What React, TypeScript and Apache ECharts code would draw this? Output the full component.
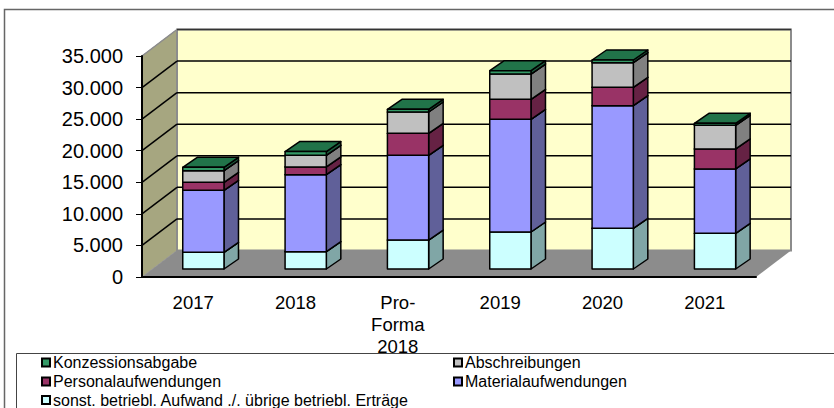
import React, { useEffect, useRef } from "react";
import * as echarts from "echarts";

const categories = ["2017", "2018", "Pro-\nForma\n2018", "2019", "2020", "2021"];
const sonstige = [2640, 2745, 4590, 5860, 6440, 5650];
const material = [9820, 12200, 13410, 17840, 19430, 10190];
const personal = [1267, 1215, 3485, 3170, 2900, 3170];
const abschreibungen = [1850, 1850, 3380, 4010, 3910, 3750];
const konzession = [530, 580, 420, 530, 420, 320];
const yTicks = [5000, 10000, 15000, 20000, 25000, 30000, 35000];

const NAMES = {
  k: "Konzessionsabgabe",
  a: "Abschreibungen",
  p: "Personalaufwendungen",
  m: "Materialaufwendungen",
  s: "sonst. betriebl. Aufwand ./. übrige betriebl. Erträge",
};

const FONT = "Liberation Sans, Arial, sans-serif";
const WALL_DX = 35;
const WALL_DY = -26.5;
const BAR_DX = 10.2;
const BAR_DY = -8;
const DEPTH_DX = 14.5;
const DEPTH_DY = -10;
const BAR_RATIO = 0.403;

const stacks = [
  { name: NAMES.s, values: sonstige, front: "#CCFFFF", side: "#80A6A6", top: "#80A6A6" },
  { name: NAMES.m, values: material, front: "#9999FF", side: "#606099", top: "#606099" },
  { name: NAMES.p, values: personal, front: "#993366", side: "#662244", top: "#662244" },
  { name: NAMES.a, values: abschreibungen, front: "#C0C0C0", side: "#808080", top: "#808080" },
  { name: NAMES.k, values: konzession, front: "#339966", side: "#1C5C3C", top: "#217349" },
];

function barSeries() {
  const running = categories.map(() => 0);
  return stacks.map((s) => {
    const data = s.values.map((v, i) => {
      const item = [i, running[i], running[i] + v];
      running[i] += v;
      return item;
    });
    return {
      type: "custom",
      name: s.name,
      z: 5,
      itemStyle: { color: s.front },
      encode: { x: 0, y: [1, 2] },
      data,
      renderItem: (_p: any, api: any) => {
        const c = api.value(0);
        const lo = api.coord([c, api.value(1)]);
        const hi = api.coord([c, api.value(2)]);
        const w = api.size([1, 0])[0] * BAR_RATIO;
        const x0 = lo[0] - w / 2 + BAR_DX;
        const x1 = x0 + w;
        const yb = lo[1] + BAR_DY;
        const yt = hi[1] + BAR_DY;
        const line = { stroke: "#000", lineWidth: 1.5, lineJoin: "round" };
        return {
          type: "group",
          children: [
            {
              type: "polygon",
              shape: { points: [[x1, yb], [x1 + DEPTH_DX, yb + DEPTH_DY], [x1 + DEPTH_DX, yt + DEPTH_DY], [x1, yt]] },
              style: { fill: s.side, ...line },
            },
            {
              type: "polygon",
              shape: { points: [[x0, yt], [x1, yt], [x1 + DEPTH_DX, yt + DEPTH_DY], [x0 + DEPTH_DX, yt + DEPTH_DY]] },
              style: { fill: s.top, ...line },
            },
            {
              type: "rect",
              shape: { x: x0, y: yt, width: w, height: yb - yt },
              style: { fill: s.front, ...line },
            },
          ],
        };
      },
    };
  });
}

function legendItem(name: string, left: number, top: number) {
  return {
    show: true,
    data: [name],
    left,
    top,
    padding: 0,
    itemWidth: 8,
    itemHeight: 8,
    icon: "rect",
    selectedMode: false,
    z: 20,
    itemStyle: { borderColor: "#000", borderWidth: 2 },
    textStyle: { fontFamily: FONT, fontSize: 16, color: "#000", padding: [0, 0, 0, -2] },
  };
}

export default function App() {
  const ref = useRef<HTMLDivElement>(null);
  useEffect(() => {
    const chart = echarts.init(ref.current!, undefined, { renderer: "svg" });
    chart.setOption({
      animation: false,
      backgroundColor: "#fff",
      grid: { left: 142, right: 78, top: 56, bottom: 131 },
      xAxis: {
        type: "category",
        data: categories,
        z: 3,
        axisLine: { lineStyle: { color: "#000", width: 2 } },
        axisTick: { length: 6, alignWithLabel: false, lineStyle: { color: "#000", width: 1 } },
        axisLabel: { interval: 0, margin: 14, color: "#000", fontFamily: FONT, fontSize: 18.5, lineHeight: 22 },
      },
      yAxis: {
        type: "value",
        min: 0,
        max: 35000,
        interval: 5000,
        z: 3,
        splitLine: { show: false },
        axisLine: { show: true, lineStyle: { color: "#000", width: 2 } },
        axisTick: { show: true, length: 6, lineStyle: { color: "#000", width: 1 } },
        axisLabel: {
          margin: 19,
          color: "#000",
          fontFamily: FONT,
          fontSize: 20,
          formatter: (v: number) => String(v).replace(/(\d)(\d{3})$/, "$1.$2"),
        },
      },
      legend: [
        legendItem(NAMES.k, 41, 354.5),
        legendItem(NAMES.a, 453, 354.5),
        legendItem(NAMES.p, 41, 373.5),
        legendItem(NAMES.m, 453, 373.5),
        legendItem(NAMES.s, 41, 392),
      ],
      graphic: [
        {
          type: "rect",
          z: -10,
          shape: { x: 4.5, y: 9.5, width: 900, height: 500 },
          style: { fill: "none", stroke: "#666", lineWidth: 1.5 },
        },
        {
          type: "rect",
          z: 10,
          shape: { x: 16.5, y: 353.5, width: 900, height: 100 },
          style: { fill: "#fff", stroke: "#444", lineWidth: 1 },
        },
      ],
      series: [
        {
          type: "custom",
          name: "Wände",
          z: 1,
          data: [[0, 0]],
          encode: { x: 0, y: 1 },
          renderItem: (p: any, api: any) => {
            const cs = p.coordSys;
            const l = cs.x;
            const r = cs.x + cs.width;
            const t = api.coord([0, 35000])[1];
            const b = api.coord([0, 0])[1];
            return {
              type: "group",
              children: [
                {
                  type: "polygon",
                  shape: { points: [[l, b], [l + WALL_DX, b + WALL_DY], [l + WALL_DX, t + WALL_DY], [l, t]] },
                  style: { fill: "#A6A680", stroke: "#999", lineWidth: 1 },
                },
                {
                  type: "polygon",
                  shape: { points: [[l, b], [r, b], [r + WALL_DX, b + WALL_DY], [l + WALL_DX, b + WALL_DY]] },
                  style: { fill: "#8C8C8C" },
                },
                {
                  type: "rect",
                  shape: { x: l + WALL_DX, y: t + WALL_DY, width: r - l, height: b - t },
                  style: { fill: "#FFFFCC", stroke: "#8C8C8C", lineWidth: 2 },
                },
              ],
            };
          },
        },
        {
          type: "custom",
          name: "Gitter",
          z: 2,
          data: yTicks.map((v) => [0, v]),
          encode: { x: 0, y: 1 },
          renderItem: (p: any, api: any) => {
            const cs = p.coordSys;
            const l = cs.x;
            const r = cs.x + cs.width;
            const v = api.value(1);
            const y = api.coord([0, v])[1];
            const isTop = v === 35000;
            const diag: any = {
              type: "line",
              shape: { x1: l, y1: y, x2: l + WALL_DX, y2: y + WALL_DY },
              style: { stroke: isTop ? "#8C8C8C" : "#000", lineWidth: 1.5 },
            };
            const back: any = {
              type: "line",
              shape: { x1: l + WALL_DX, y1: y + WALL_DY, x2: r + WALL_DX, y2: y + WALL_DY },
              style: { stroke: isTop ? "#333" : "#000", lineWidth: 1.5 },
            };
            return { type: "group", children: [diag, back] };
          },
        },
        ...barSeries(),
      ],
    });
    return () => chart.dispose();
  }, []);
  return <div ref={ref} style={{ position: "absolute", left: 0, top: 0, width: 834, height: 408 }} />;
}
